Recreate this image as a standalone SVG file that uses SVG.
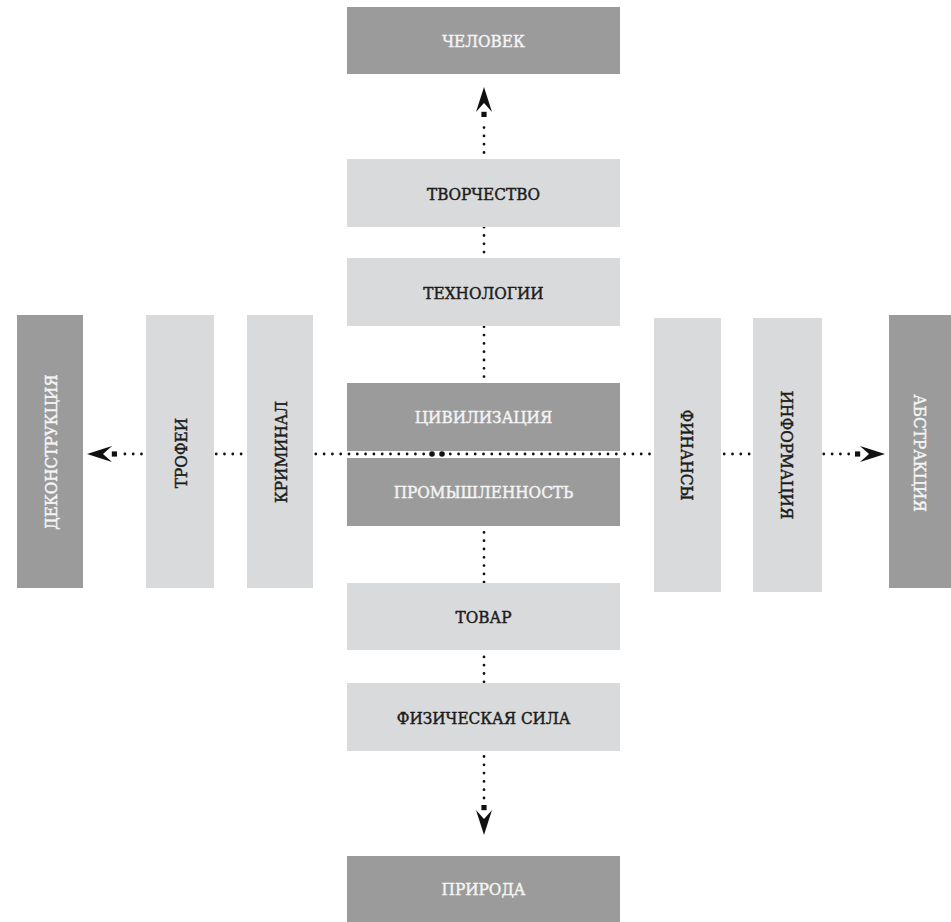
<svg xmlns="http://www.w3.org/2000/svg" width="951" height="922" viewBox="0 0 951 922">
<style>
.dark{fill:#9b9b9b}
.light{fill:#d9dadb}
.tl,.td{font-family:"DejaVu Serif Condensed","DejaVu Serif","Liberation Serif",serif;font-stretch:condensed;font-size:17px;stroke-width:0.45px;text-anchor:middle}
.tl{fill:#f4f4f4;stroke:#f4f4f4}
.td{fill:#1c1c1c;stroke:#1c1c1c}
.dots{stroke:#111;stroke-width:2.8;stroke-linecap:round;stroke-dasharray:0 8.3;fill:none}
</style>
<defs>
<marker id="arr" viewBox="-32 -10 36 20" markerWidth="36" markerHeight="20" refX="0" refY="0" orient="auto" markerUnits="userSpaceOnUse">
<path d="M0,0 L-25,-8 L-16,0 L-25,8 Z" fill="#111"/>
<rect x="-30" y="-2.6" width="5.2" height="5.2" fill="#111"/>
</marker>
</defs>
<rect width="951" height="922" fill="#fff"/>
<g id="connectors">
<line class="dots" x1="484" y1="443" x2="484" y2="122"/>
<line class="dots" x1="484" y1="466" x2="484" y2="802"/>
<line class="dots" x1="432" y1="454" x2="122" y2="454"/>
<line class="dots" x1="442" y1="454" x2="852" y2="454"/>
<line x1="484" y1="120" x2="484" y2="87" stroke="none" marker-end="url(#arr)"/>
<line x1="484" y1="800" x2="484" y2="835" stroke="none" marker-end="url(#arr)"/>
<line x1="120" y1="454" x2="87" y2="454" stroke="none" marker-end="url(#arr)"/>
<line x1="850" y1="454" x2="885" y2="454" stroke="none" marker-end="url(#arr)"/>
<circle cx="432" cy="454" r="2.8" fill="#111"/>
<circle cx="442" cy="454" r="2.8" fill="#111"/>
</g>
<g id="chelovek"><rect class="dark" x="347" y="7" width="273" height="67"/><text class="tl" x="483.5" y="47">ЧЕЛОВЕК</text></g>
<g id="tvorchestvo"><rect class="light" x="347" y="159" width="273" height="68"/><text class="td" x="483.5" y="199.5">ТВОРЧЕСТВО</text></g>
<g id="tehnologii"><rect class="light" x="347" y="258" width="273" height="68"/><text class="td" x="483.5" y="298.5">ТЕХНОЛОГИИ</text></g>
<g id="civilizaciya"><rect class="dark" x="347" y="383" width="273" height="68"/><text class="tl" x="483.5" y="423">ЦИВИЛИЗАЦИЯ</text></g>
<g id="promyshlennost"><rect class="dark" x="347" y="458" width="273" height="68"/><text class="tl" x="483.5" y="498">ПРОМЫШЛЕННОСТЬ</text></g>
<g id="tovar"><rect class="light" x="347" y="583" width="273" height="67"/><text class="td" x="483.5" y="622.5">ТОВАР</text></g>
<g id="fizicheskaya-sila"><rect class="light" x="347" y="683" width="273" height="68"/><text class="td" x="483.5" y="723.5">ФИЗИЧЕСКАЯ СИЛА</text></g>
<g id="priroda"><rect class="dark" x="347" y="856" width="273" height="66"/><text class="tl" x="483.5" y="895">ПРИРОДА</text></g>
<g id="dekonstrukciya"><rect class="dark" x="17" y="315" width="66" height="273"/><text class="tl" transform="translate(56.5,452) rotate(-90)">ДЕКОНСТРУКЦИЯ</text></g>
<g id="trofei"><rect class="light" x="146" y="315" width="68" height="273"/><text class="td" transform="translate(186.5,453) rotate(-90)">ТРОФЕИ</text></g>
<g id="kriminal"><rect class="light" x="247" y="315" width="66" height="273"/><text class="td" transform="translate(286.5,452) rotate(-90)">КРИМИНАЛ</text></g>
<g id="finansy"><rect class="light" x="654" y="318" width="67" height="274"/><text class="td" transform="translate(681,455) rotate(90)">ФИНАНСЫ</text></g>
<g id="informaciya"><rect class="light" x="753" y="318" width="69" height="274"/><text class="td" transform="translate(781,455) rotate(90)">ИНФОРМАЦИЯ</text></g>
<g id="abstrakciya"><rect class="dark" x="889" y="315" width="62" height="273"/><text class="tl" transform="translate(913.5,453) rotate(90)">АБСТРАКЦИЯ</text></g>
</svg>
